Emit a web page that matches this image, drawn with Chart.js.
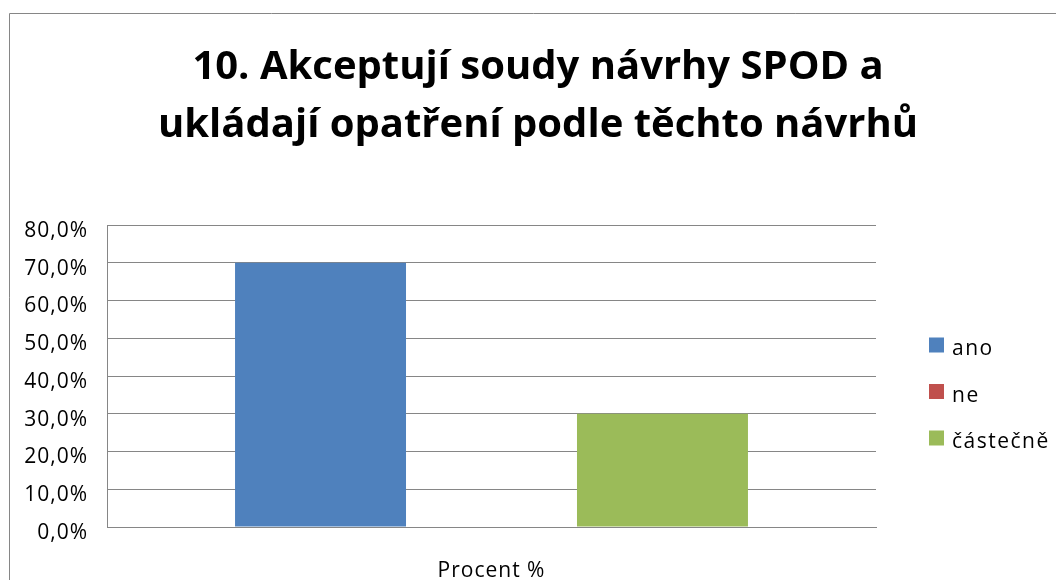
<!DOCTYPE html>
<html><head><meta charset="utf-8">
<script src="https://cdn.jsdelivr.net/npm/chart.js@4/dist/chart.umd.min.js"></script>
<style>html,body{margin:0;padding:0;background:#fff;overflow:hidden}#wrap{position:relative;width:1056px;height:580px}</style>
</head><body><div id="wrap"><canvas id="c" width="1056" height="580"></canvas></div>
<script>
const titleLines = ["10. Akceptují soudy návrhy SPOD a", "ukládají opatření podle těchto návrhů"];
const categories = ["Procent %"];
const seriesNames = ["ano", "ne", "částečně"];
const ano = [70.0];
const ne = [0.0];
const castecne = [30.0];
const yMin = 0, yMax = 80, yStep = 10;
const seriesColors = ["#4F81BD", "#C0504D", "#9BBB59"];

const FONT = '"Open Sans", sans-serif';
const GRID = '#868686';
const SPACING = '1px';

const frame = {
  id: 'frame',
  beforeDraw(chart) {
    const ctx = chart.ctx;
    ctx.save();
    ctx.fillStyle = '#fff';
    ctx.fillRect(0, 0, chart.width, chart.height);
    ctx.strokeStyle = GRID;
    ctx.lineWidth = 1;
    ctx.beginPath();
    ctx.moveTo(9.5, chart.height + 5);
    ctx.lineTo(9.5, 13.5);
    ctx.lineTo(chart.width + 5, 13.5);
    ctx.stroke();
    ctx.restore();
  }
};

const sideLegend = {
  id: 'sideLegend',
  afterDraw(chart) {
    const ctx = chart.ctx;
    ctx.save();
    ctx.font = '21px ' + FONT;
    ctx.letterSpacing = '1.5px';
    ctx.textBaseline = 'alphabetic';
    ctx.textAlign = 'left';
    chart.data.datasets.forEach((ds, i) => {
      const cy = 345 + i * 46.5;
      ctx.fillStyle = ds.backgroundColor;
      ctx.fillRect(929, cy - 7.5, 15, 15);
      ctx.fillStyle = '#000';
      ctx.fillText(ds.label, 952, cy + 10);
    });
    ctx.restore();
  }
};

function spacedLabels(s) {
  if (s._spaced) return;
  const orig = s.drawLabels.bind(s);
  s.drawLabels = function (area) {
    this.ctx.save();
    this.ctx.letterSpacing = SPACING;
    orig(area);
    this.ctx.restore();
  };
  s._spaced = true;
}

const fmt = v => v.toFixed(1).replace('.', ',') + '%';

new Chart(document.getElementById('c'), {
  type: 'bar',
  data: {
    labels: categories,
    datasets: [
      { label: seriesNames[0], data: ano, backgroundColor: seriesColors[0] },
      { label: seriesNames[1], data: ne, backgroundColor: seriesColors[1] },
      { label: seriesNames[2], data: castecne, backgroundColor: seriesColors[2] }
    ]
  },
  options: {
    responsive: false,
    animation: false,
    devicePixelRatio: 1,
    layout: { padding: { left: 20, right: 0, top: 0, bottom: 0 } },
    datasets: { bar: { categoryPercentage: 0.667, barPercentage: 1.0, borderWidth: 0 } },
    plugins: {
      legend: { display: false },
      tooltip: { enabled: false },
      title: {
        display: true,
        text: titleLines,
        color: '#000',
        font: { family: FONT, size: 40, weight: 'bold', lineHeight: '58px' },
        padding: { top: 39, bottom: 70 }
      }
    },
    scales: {
      x: {
        grid: { display: false, drawTicks: false },
        border: { display: true, color: GRID, width: 1 },
        ticks: { color: '#000', font: { family: FONT, size: 21 }, padding: 31 },
        afterFit(s) { s.height = 53; spacedLabels(s); }
      },
      y: {
        min: yMin, max: yMax,
        grid: { color: GRID, drawTicks: false },
        border: { display: true, color: GRID, width: 1 },
        ticks: { stepSize: yStep, color: '#000', font: { family: FONT, size: 21 }, padding: 19, labelOffset: 6, callback: v => fmt(v) },
        afterFit(s) { s.width = 87; spacedLabels(s); }
      },
      pad: {
        type: 'linear',
        position: 'right',
        display: true,
        grid: { display: false, drawTicks: false },
        border: { display: false },
        ticks: { display: false },
        afterFit(s) { s.width = 180; }
      }
    }
  },
  plugins: [frame, sideLegend]
});
</script></body></html>
